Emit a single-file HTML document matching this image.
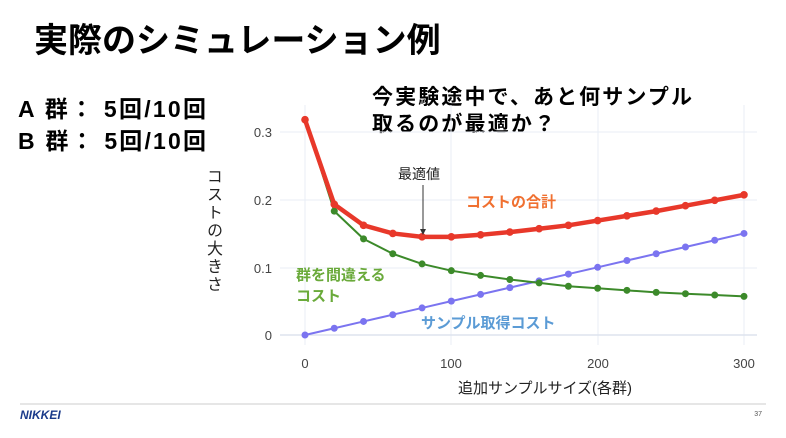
<!DOCTYPE html>
<html><head><meta charset="utf-8"><style>
body{margin:0;width:786px;height:433px;background:#fff;overflow:hidden;font-family:"Liberation Sans","Noto Sans CJK JP",sans-serif;position:relative;}
#vl{position:absolute;left:202px;top:168px;writing-mode:vertical-rl;text-orientation:upright;font-size:16px;color:#222;letter-spacing:2px;line-height:20px;}
</style></head><body>
<svg width="786" height="433" xmlns="http://www.w3.org/2000/svg" font-family="Liberation Sans, Noto Sans CJK JP, sans-serif">
<text x="34" y="52" font-size="34" font-weight="bold" fill="#000">実際のシミュレーション例</text>
<text x="18" y="117" font-size="23" font-weight="bold" textLength="188">A 群： 5回/10回</text>
<text x="18" y="149" font-size="23" font-weight="bold" textLength="188">B 群： 5回/10回</text>
<text x="372" y="104" font-size="21" font-weight="bold" textLength="320">今実験途中で、あと何サンプル</text>
<text x="372" y="131" font-size="21" font-weight="bold" textLength="183">取るのが最適か？</text>
<g stroke="#e9edf5" stroke-width="1">
<line x1="280" y1="132" x2="757" y2="132"/><line x1="280" y1="200" x2="757" y2="200"/><line x1="280" y1="268" x2="757" y2="268"/>
<line x1="451" y1="105" x2="451" y2="345"/><line x1="598" y1="105" x2="598" y2="345"/><line x1="305" y1="105" x2="305" y2="345"/><line x1="744" y1="105" x2="744" y2="345"/>
</g>
<line x1="280" y1="335" x2="757" y2="335" stroke="#dde3ee" stroke-width="1.5"/>
<g font-size="13" fill="#444" text-anchor="end">
<text x="272" y="137">0.3</text><text x="272" y="205">0.2</text><text x="272" y="273">0.1</text><text x="272" y="340">0</text>
</g>
<g font-size="13" fill="#444" text-anchor="middle">
<text x="305" y="368">0</text><text x="451" y="368">100</text><text x="598" y="368">200</text><text x="744" y="368">300</text>
</g>
<text x="545" y="393" font-size="15" text-anchor="middle" fill="#222">追加サンプルサイズ(各群)</text>
<g id="plot"></g>
<line x1="423" y1="185" x2="423" y2="232" stroke="#333" stroke-width="1"/>
<polygon points="420,229 426,229 423,235" fill="#333"/>
<text x="398" y="179" font-size="14" fill="#222">最適値</text>
<text x="466" y="207" font-size="15" font-weight="bold" fill="#f07030">コストの合計</text>
<text x="296" y="280" font-size="15" font-weight="bold" fill="#6aaa3a">群を間違える</text>
<text x="296" y="301" font-size="15" font-weight="bold" fill="#6aaa3a">コスト</text>
<text x="421" y="328" font-size="15" font-weight="bold" fill="#5b9bd5">サンプル取得コスト</text>
<line x1="20" y1="404" x2="766" y2="404" stroke="#ccc" stroke-width="1"/>
<text x="20" y="419" font-size="12" font-weight="bold" font-style="italic" fill="#1a3a8a">NIKKEI</text>
<text x="762" y="416" font-size="7" fill="#555" text-anchor="end">37</text>
</svg>
<div id="vl">コストの大きさ</div>
<script>
var g=[.318,.183,.142,.12,.105,.095,.088,.082,.077,.072,.069,.066,.063,.061,.059,.057];
var px=function(x){return 305+x*1.4633},py=function(y){return 335-y*677};
var s='',G=[],B=[],R=[];
for(var i=0;i<16;i++){var x=px(i*20);G.push([x,py(g[i])]);B.push([x,py(i*.01)]);R.push([x,py(g[i]+i*.01)]);}
function line(p,c,w,r){var s='<polyline fill="none" stroke="'+c+'" stroke-width="'+w+'" stroke-linejoin="round" points="'+p.map(function(a){return a.join(',')}).join(' ')+'"/>';p.forEach(function(a){s+='<circle cx="'+a[0]+'" cy="'+a[1]+'" r="'+r+'" fill="'+c+'"/>'});return s;}
s+=line(B,'#7b74f0',2,3.5)+line(G,'#3c8a2a',2,3.5)+line(R,'#e8382a',4.5,3.8);
document.getElementById('plot').innerHTML=s;
</script>
</body></html>
